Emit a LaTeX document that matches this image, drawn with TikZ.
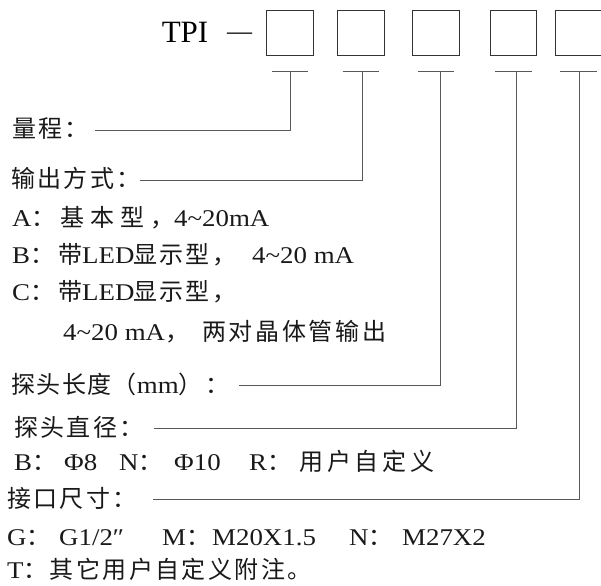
\documentclass[tikz,border=0pt]{standalone}
\usepackage{fontspec}
\setmainfont[FakeStretch=1.12]{Liberation Serif}
\newfontfamily\tpifont{Liberation Serif}
\newfontfamily\cjk[LetterSpace=10]{Noto Sans CJK SC}
\newcommand\zh[1]{{\cjk #1}}
\newcommand\zhs[2]{{\cjk\addfontfeature{LetterSpace=#1}#2}}
\newcommand\cell[2]{\makebox[#1pt][l]{#2}}

\tikzset{
  box/.style={draw=black!80,line width=.9pt,minimum width=46.5pt,minimum height=45pt,inner sep=0pt},
  lbl/.style={anchor=west,inner sep=2pt,text height=20pt,text depth=4pt,
    font=\fontsize{24}{28}\selectfont,text=black!90},
  wire/.style={draw=black!65,line width=.9pt}
}

\begin{document}
\begin{tikzpicture}[x=1pt,y=-1pt]
\useasboundingbox(0,0)rectangle(601,585);
% code head
\node[font=\tpifont\fontsize{31}{34}\selectfont,inner sep=0pt] (tpi) at (185,32) {TPI};
\node[font=\tpifont\fontsize{25}{28}\selectfont,inner sep=0pt] (dash) at (239.5,36) {—};
\foreach \i/\x in {1/290,2/361,3/436,4/513.3,5/578.3}{
  \node[box] (b\i) at (\x,32.5) {};
  \draw[wire] (\x-18.3,71)--(\x+18.3,71);}
\foreach \i/\x in {1/290,2/362.3,3/440,4/516.7,5/579}\coordinate (t\i) at (\x,71);
% labels
\node[lbl] (range) at (10,130) {\zh{量程：}};
\node[lbl] (output) at (9,180) {\zh{输出方式：}};
\node[lbl] (optA) at (10,218) {\cell{48}{A\zh{：}}\zhs{25}{基本型，}4\char`~20mA};
\node[lbl] (optB) at (10,255) {\cell{46}{B\zh{：}}\cell{75}{\zh{带}LED}\cell{119}{\zh{显示型，}}4\char`~20 mA};
\node[lbl] (optC) at (10,292) {\cell{46}{C\zh{：}}\cell{75}{\zh{带}LED}\zh{显示型，}};
\node[lbl] (optCb) at (61,332) {\cell{139}{4\char`~20 mA\zh{，}}\zhs{11}{两对晶体管输出}};
\node[lbl] (length) at (9,385) {\zhs{6}{探头长度（}mm\zh{）：}};
\node[lbl] (diam) at (12,428) {\zh{探头直径：}};
\node[lbl] (diamopt) at (12,462) {\cell{50}{B\zh{：}}\cell{55}{Φ8}\cell{55}{N\zh{：}}\cell{75}{Φ10}\cell{50}{R\zh{：}}\zhs{16}{用户自定义}};
\node[lbl] (port) at (5,499) {\zh{接口尺寸：}};
\node[lbl] (portopt) at (5,537) {\cell{52}{G\zh{：}}\cell{103}{G1/2″}\cell{50}{M\zh{：}}\cell{137}{M20X1.5}\cell{53}{N\zh{：}}M27X2};
\node[lbl] (note) at (5,570) {T\zh{：其它用户自定义附注。}};
% leaders
\draw[wire] ([xshift=4pt]range.east)--(range.east-|t1)--(t1);
\draw[wire] ([xshift=-3pt]output.east)--(output.east-|t2)--(t2);
\draw[wire] ([xshift=8pt]length.east)--(length.east-|t3)--(t3);
\draw[wire] ([xshift=8pt]diam.east)--(diam.east-|t4)--(t4);
\draw[wire] ([xshift=14pt]port.east)--(port.east-|t5)--(t5);
\end{tikzpicture}
\end{document}
